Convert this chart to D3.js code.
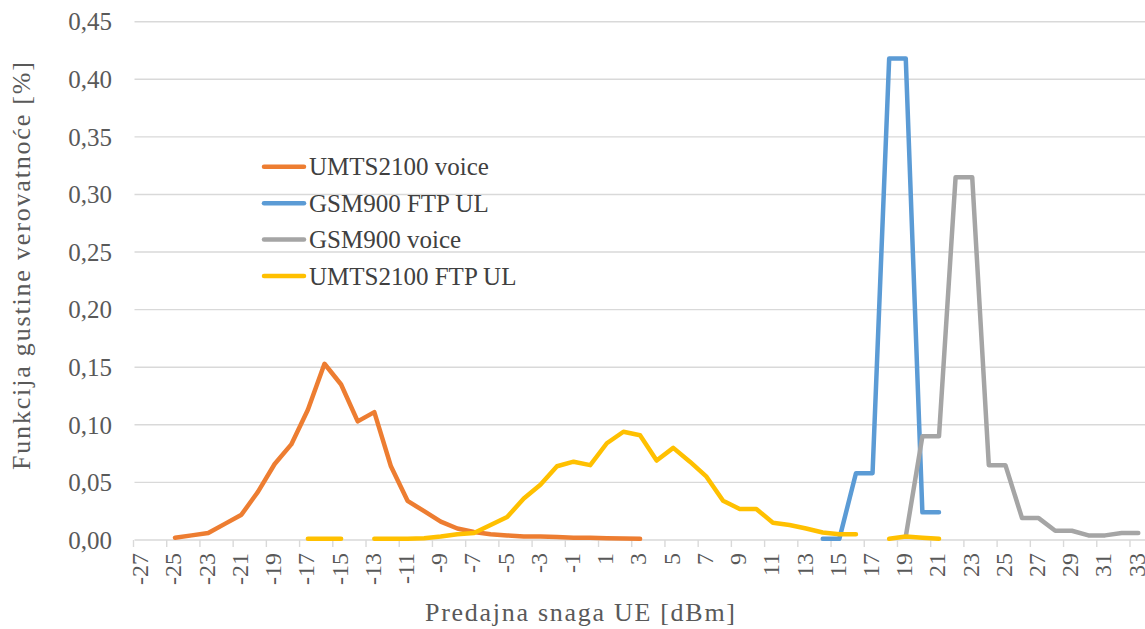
<!DOCTYPE html>
<html>
<head>
<meta charset="utf-8">
<script src="https://cdn.jsdelivr.net/npm/d3@7"></script>
<style>
  body { margin: 0; background: #fff; }
  svg { display: block; }
</style>
</head>
<body>
<svg id="chart" width="1145" height="629" font-family="'Liberation Serif', 'DejaVu Serif', serif"></svg>
<script>
// categories: UE transmit power in dBm
const categories = [-27, -26, -25, -24, -23, -22, -21, -20, -19, -18, -17, -16, -15, -14, -13, -12, -11, -10,
  -9, -8, -7, -6, -5, -4, -3, -2, -1, 0, 1, 2, 3, 4, 5, 6, 7, 8, 9, 10, 11, 12, 13, 14, 15, 16, 17, 18,
  19, 20, 21, 22, 23, 24, 25, 26, 27, 28, 29, 30, 31, 32, 33];

const yTicks = [0, 0.05, 0.10, 0.15, 0.20, 0.25, 0.30, 0.35, 0.40, 0.45];

// one value per category, null where the series has no point
const umtsVoice = [null, null, 0.002, 0.004, 0.006, 0.014, 0.022, 0.042, 0.066, 0.083, 0.113, 0.153, 0.135, 0.103,
  0.111, 0.064, 0.034, 0.025, 0.016, 0.010, 0.007, 0.005, 0.004, 0.003, 0.003, 0.0025, 0.002, 0.002, 0.0015,
  0.0012, 0.001, null, null, null, null, null, null, null, null, null, null, null, null, null, null, null,
  null, null, null, null, null, null, null, null, null, null, null, null, null, null, null];

const gsmFtp = [null, null, null, null, null, null, null, null, null, null, null, null, null, null, null, null,
  null, null, null, null, null, null, null, null, null, null, null, null, null, null, null, null, null, null,
  null, null, null, null, null, null, null, 0.001, 0.001, 0.058, 0.058, 0.418, 0.418, 0.024, 0.024, null,
  null, null, null, null, null, null, null, null, null, null, null];

const gsmVoice = [null, null, null, null, null, null, null, null, null, null, null, null, null, null, null, null,
  null, null, null, null, null, null, null, null, null, null, null, null, null, null, null, null, null, null,
  null, null, null, null, null, null, null, null, null, null, null, null, 0.003, 0.090, 0.090, 0.315, 0.315,
  0.065, 0.065, 0.019, 0.019, 0.008, 0.008, 0.004, 0.004, 0.006, 0.006];

const umtsFtp = [null, null, null, null, null, null, null, null, null, null, 0.001, 0.001, 0.001, null, 0.001,
  0.001, 0.001, 0.0015, 0.003, 0.005, 0.006, 0.013, 0.020, 0.036, 0.048, 0.064, 0.068, 0.065, 0.084, 0.094,
  0.091, 0.069, 0.080, 0.068, 0.055, 0.034, 0.027, 0.027, 0.015, 0.013, 0.010, 0.0065, 0.005, 0.005, null,
  0.001, 0.003, 0.002, 0.001, null, null, null, null, null, null, null, null, null, null, null, null];

const seriesNames = ["UMTS2100 voice", "GSM900 FTP UL", "GSM900 voice", "UMTS2100 FTP UL"];
const seriesValues = [umtsVoice, gsmFtp, gsmVoice, umtsFtp];
const seriesColors = ["#ED7D31", "#5B9BD5", "#A5A5A5", "#FFC000"];

const svg = d3.select('#chart');
const plotLeft = 133.5, plotRight = 133.5 + 61 * 16.608;
const plotTop = 21.7, plotBottom = 540;

// category axis, points sit between tick marks
const x = d3.scaleBand().domain(categories).range([plotLeft, plotRight]).padding(0);
const y = d3.scaleLinear().domain([0, 0.45]).range([plotBottom, plotTop]);
const fmt = d => d3.format(".2f")(d).replace('.', ',');

// gridlines
svg.append('g')
  .selectAll('line')
  .data(yTicks)
  .enter()
  .append('line')
  .attr('x1', plotLeft + 1)
  .attr('x2', 1145)
  .attr('y1', d => y(d))
  .attr('y2', d => y(d))
  .attr('stroke', '#d9d9d9')
  .attr('stroke-width', 1.4);

// y tick labels
svg.append('g')
  .selectAll('text')
  .data(yTicks)
  .enter()
  .append('text')
  .attr('x', 112)
  .attr('y', d => y(d))
  .attr('dy', '0.35em')
  .attr('text-anchor', 'end')
  .attr('fill', '#595959')
  .attr('font-size', 25)
  .text(fmt);

// x tick marks and labels, every second category
const labelled = categories.filter((c, i) => i % 2 === 0);
svg.append('g')
  .selectAll('line')
  .data(labelled)
  .enter()
  .append('line')
  .attr('x1', d => x(d))
  .attr('x2', d => x(d))
  .attr('y1', plotBottom)
  .attr('y2', plotBottom + 7)
  .attr('stroke', '#d9d9d9')
  .attr('stroke-width', 1.4);

svg.append('g')
  .selectAll('text')
  .data(labelled)
  .enter()
  .append('text')
  .attr('transform', d => `translate(${x(d) + x.bandwidth() / 2 - 2},${plotBottom + 13}) rotate(-90)`)
  .attr('dy', '0.35em')
  .attr('text-anchor', 'end')
  .attr('fill', '#595959')
  .attr('font-size', 24)
  .text(d => d);

// series lines
const line = d3.line()
  .defined(d => d.v != null)
  .x(d => x(d.c) + x.bandwidth() / 2)
  .y(d => y(d.v));

seriesValues.forEach((vals, i) => {
  const pts = categories.map((c, j) => ({ c: c, v: vals[j] }));
  svg.append('path')
    .datum(pts)
    .attr('d', line)
    .attr('fill', 'none')
    .attr('stroke', seriesColors[i])
    .attr('stroke-width', 4.5)
    .attr('stroke-linejoin', 'round')
    .attr('stroke-linecap', 'round');
});

// legend
const legendY = [166.7, 203.3, 239.5, 276];
const legend = svg.append('g');
seriesNames.forEach((name, i) => {
  legend.append('line')
    .attr('x1', 264).attr('x2', 304)
    .attr('y1', legendY[i]).attr('y2', legendY[i])
    .attr('stroke', seriesColors[i])
    .attr('stroke-width', 4.5)
    .attr('stroke-linecap', 'round');
  legend.append('text')
    .attr('x', 309)
    .attr('y', legendY[i])
    .attr('dy', '0.35em')
    .attr('fill', '#404040')
    .attr('font-size', 25)
    .text(name);
});

// axis titles
svg.append('text')
  .attr('x', 580)
  .attr('y', 621)
  .attr('text-anchor', 'middle')
  .attr('fill', '#595959')
  .attr('textLength', 310)
  .attr('font-size', 26)
  .text('Predajna snaga UE [dBm]');

svg.append('text')
  .attr('transform', 'translate(29.5,266) rotate(-90)')
  .attr('text-anchor', 'middle')
  .attr('fill', '#595959')
  .attr('textLength', 408)
  .attr('font-size', 26)
  .text('Funkcija gustine verovatnoće [%]');
</script>
</body>
</html>
